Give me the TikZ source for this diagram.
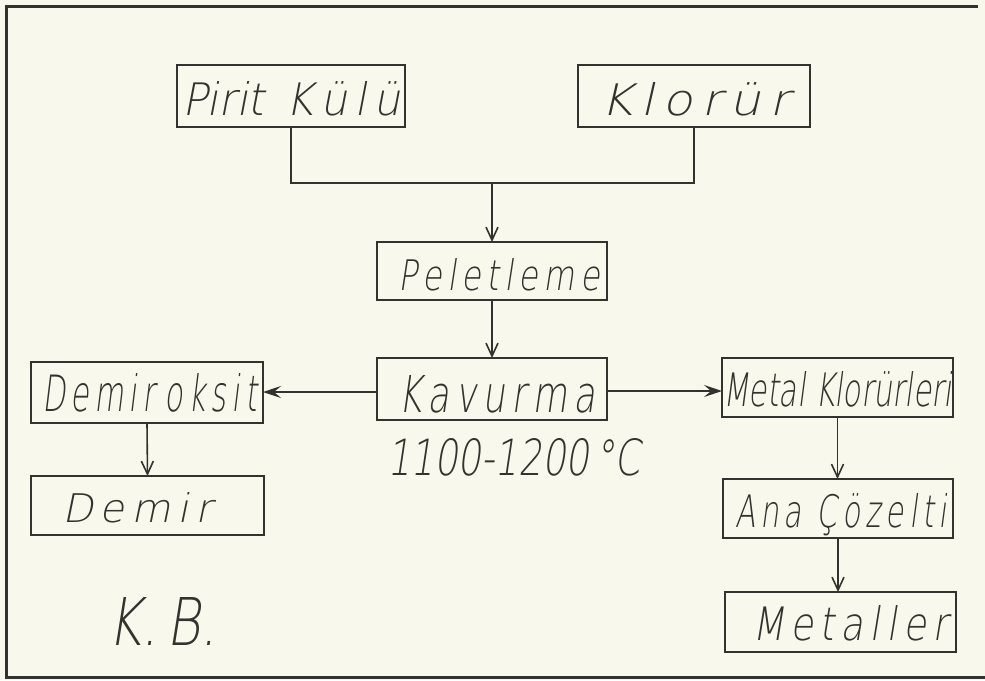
\documentclass[tikz,border=0pt]{standalone}
\usepackage{graphicx}
\usepackage{fontspec}
\setmainfont{DejaVu Sans ExtraLight}[FakeSlant=0.2]
\usetikzlibrary{arrows.meta}
\definecolor{paper}{RGB}{248,249,236}
\definecolor{ink}{RGB}{50,51,46}
\newcommand{\hw}[3]{\resizebox{#1pt}{#2pt}{#3}}
\tikzset{
  box/.style={draw=ink, line width=2pt, inner sep=0pt, outer sep=0pt, rectangle},
  lbl/.style={text=ink, inner sep=0pt, outer sep=0pt, anchor=base west},
  conn/.style={draw=ink, line width=1.6pt},
  varr/.style={conn, -{Straight Barb[length=13pt,width=12pt,line width=1.6pt]}},
  harr/.style={conn, -{Stealth[length=18pt,width=12pt,inset=7pt]}},
  frame/.style={draw=ink, line width=3pt}
}
\begin{document}
\begin{tikzpicture}[x=1pt,y=-1pt]
\fill[paper] (0,0) rectangle (985,680);
\useasboundingbox (0,0) rectangle (985,680);
% outer frame
\draw[frame] (978,6) -- (6,6) -- (6,677) -- (985,677);
% boxes
\node[box, minimum width=228pt, minimum height=62pt] (pk) at (291,96) {};
\node[box, minimum width=232pt, minimum height=62pt] (kl) at (694,96) {};
\node[box, minimum width=230pt, minimum height=58pt] (pel) at (492,271) {};
\node[box, minimum width=230pt, minimum height=62pt] (kav) at (492,389) {};
\node[box, minimum width=232pt, minimum height=61pt] (dox) at (147,392.5) {};
\node[box, minimum width=233pt, minimum height=59pt] (dem) at (147.5,505.5) {};
\node[box, minimum width=231pt, minimum height=59pt] (mk) at (837.5,387.5) {};
\node[box, minimum width=230pt, minimum height=59pt] (ac) at (838,508.5) {};
\node[box, minimum width=231pt, minimum height=60pt] (met) at (840.5,622) {};
% labels
\node[lbl] (tpk) at (182,115) {\hw{218}{34}{Pirit\, K\,ü\,l\,ü}};
\node[lbl] (tkl) at (600,115) {\hw{190}{33}{K\,l\,o\,r\,ü\,r}};
\node[lbl] (tpel) at (398,290) {\hw{202}{32}{P\,e\,l\,e\,t\,l\,e\,m\,e}};
\node[lbl] (tkav) at (398,412) {\hw{197}{37}{K\,a\,v\,u\,r\,m\,a}};
\node[lbl] (ttemp) at (387,475) {\hw{253}{37}{1100-1200\,°C}};
\node[lbl] (tdox) at (42,411) {\hw{215}{38}{D\,e\,m\,i\,r\,\,o\,k\,s\,i\,t}};
\node[lbl] (tdem) at (62,522) {\hw{150}{30}{D\,e\,m\,i\,r}};
\node[lbl] (tmk) at (723,406) {\hw{229}{35}{Metal Klorürleri}};
\node[lbl] (tac) at (735,527) {\hw{212}{34}{A\,n\,a\, Ç\,ö\,z\,e\,l\,t\,i}};
\node[lbl] (tmet) at (752,640) {\hw{196}{35}{M\,e\,t\,a\,l\,l\,e\,r}};
\node[lbl] (tkb) at (107,645) {\hw{110}{48}{K.\,B.}};
% connectors
\coordinate (join) at (492,183);
\draw[conn] (pk.south) |- (join) -| (kl.south);
\draw[varr] (join) -- (pel.north);
\draw[varr] (pel.south) -- (kav.north);
\draw[harr] (kav.west |- 0,392) -- (dox.east |- 0,392);
\draw[harr] (kav.east |- 0,391) -- (mk.west |- 0,391);
\draw[varr] (dox.south) -- (dem.north);
\draw[varr] (mk.south) -- (mk.south |- ac.north);
\draw[varr] (ac.south) -- (ac.south |- met.north);
\end{tikzpicture}
\end{document}
